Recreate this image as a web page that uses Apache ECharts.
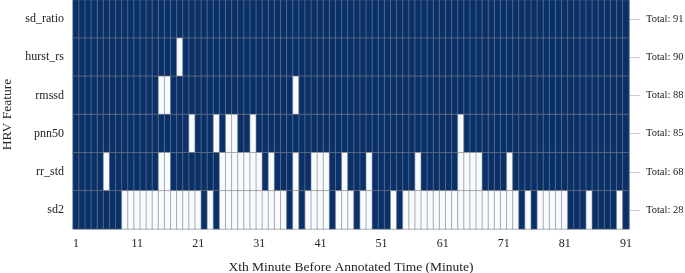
<!DOCTYPE html>
<html>
<head>
<meta charset="utf-8">
<script src="https://cdn.jsdelivr.net/npm/echarts@6/dist/echarts.min.js"></script>
<style>
  html, body { margin: 0; padding: 0; background: #fff; }
  #chart { width: 685px; height: 273px; }
</style>
</head>
<body>
<div id="chart"></div>
<script>
// 1 = feature present (dark), 0 = absent (light), minutes 1..91
const features = ['sd_ratio', 'hurst_rs', 'rmssd', 'pnn50', 'rr_std', 'sd2'];
const minutes = Array.from({ length: 91 }, (_, i) => String(i + 1));

const sdRatio = [
  1,1,1,1,1,1,1,1,1,1, 1,1,1,1,1,1,1,1,1,1, 1,1,1,1,1,1,1,1,1,1,
  1,1,1,1,1,1,1,1,1,1, 1,1,1,1,1,1,1,1,1,1, 1,1,1,1,1,1,1,1,1,1,
  1,1,1,1,1,1,1,1,1,1, 1,1,1,1,1,1,1,1,1,1, 1,1,1,1,1,1,1,1,1,1, 1
];
const hurstRs = [
  1,1,1,1,1,1,1,1,1,1, 1,1,1,1,1,1,1,0,1,1, 1,1,1,1,1,1,1,1,1,1,
  1,1,1,1,1,1,1,1,1,1, 1,1,1,1,1,1,1,1,1,1, 1,1,1,1,1,1,1,1,1,1,
  1,1,1,1,1,1,1,1,1,1, 1,1,1,1,1,1,1,1,1,1, 1,1,1,1,1,1,1,1,1,1, 1
];
const rmssd = [
  1,1,1,1,1,1,1,1,1,1, 1,1,1,1,0,0,1,1,1,1, 1,1,1,1,1,1,1,1,1,1,
  1,1,1,1,1,1,0,1,1,1, 1,1,1,1,1,1,1,1,1,1, 1,1,1,1,1,1,1,1,1,1,
  1,1,1,1,1,1,1,1,1,1, 1,1,1,1,1,1,1,1,1,1, 1,1,1,1,1,1,1,1,1,1, 1
];
const pnn50 = [
  1,1,1,1,1,1,1,1,1,1, 1,1,1,1,1,1,1,1,1,0, 1,1,1,0,1,0,0,1,1,0,
  1,1,1,1,1,1,1,1,1,1, 1,1,1,1,1,1,1,1,1,1, 1,1,1,1,1,1,1,1,1,1,
  1,1,1,0,1,1,1,1,1,1, 1,1,1,1,1,1,1,1,1,1, 1,1,1,1,1,1,1,1,1,1, 1
];
const rrStd = [
  1,1,1,1,1,0,1,1,1,1, 1,1,1,1,0,0,1,1,1,1, 1,1,1,1,0,0,0,0,0,0,
  0,1,0,1,1,1,0,1,1,0, 0,0,1,1,0,1,1,1,0,1, 1,1,1,1,1,1,0,1,1,1,
  1,1,1,0,0,0,0,1,1,1, 1,0,1,1,1,1,1,1,1,1, 1,1,1,1,1,1,1,1,1,1, 1
];
const sd2 = [
  1,1,1,1,1,1,1,1,0,0, 0,0,0,0,0,0,0,0,0,0, 0,1,0,1,0,0,0,0,0,0,
  0,0,0,0,0,1,0,1,0,0, 0,0,1,0,0,0,1,0,0,1, 1,1,0,1,0,0,0,0,0,0,
  0,0,0,0,0,0,0,0,0,0, 0,0,0,1,0,1,0,0,0,0, 0,1,1,1,0,1,1,1,1,0, 1
];
const rows = [sdRatio, hurstRs, rmssd, pnn50, rrStd, sd2];

const chart = echarts.init(document.getElementById('chart'));

const data = [];
rows.forEach((row, r) => {
    row.forEach((v, c) => data.push([c, r, v]));
});
const totals = rows.map(row => 'Total: ' + row.reduce((a, b) => a + b, 0));

const font = 'Liberation Serif';
const textColor = '#222';

chart.setOption({
    animation: false,
    textStyle: { fontFamily: font },
    grid: { left: 73, right: 56, top: 0, bottom: 44, outerBoundsMode: 'none', containLabel: false },
    xAxis: {
        type: 'category',
        data: minutes,
        name: 'Xth Minute Before Annotated Time (Minute)',
        nameLocation: 'middle',
        nameGap: 31,
        nameTextStyle: { fontFamily: font, fontSize: 13.5, color: textColor },
        axisLine: { show: false },
        axisTick: { show: false },
        splitLine: { show: false },
        axisLabel: { interval: 9, fontFamily: font, fontSize: 12, color: textColor, margin: 9 }
    },
    yAxis: [
        {
            type: 'category',
            data: features,
            inverse: true,
            name: 'HRV Feature',
            nameLocation: 'middle',
            nameGap: 57,
            nameTextStyle: { fontFamily: font, fontSize: 13.5, color: textColor },
            axisLine: { show: false },
            axisTick: { show: false },
            axisLabel: { fontFamily: font, fontSize: 12, color: textColor, margin: 9 }
        },
        {
            type: 'category',
            data: totals,
            inverse: true,
            position: 'right',
            axisLine: { show: true, lineStyle: { color: '#cccccc' } },
            axisTick: { show: true, alignWithLabel: true, length: 11, lineStyle: { color: '#cccccc' } },
            axisLabel: { fontFamily: font, fontSize: 10.5, color: textColor, margin: 17 }
        }
    ],
    visualMap: {
        show: false,
        type: 'piecewise',
        dimension: 2,
        pieces: [
            { value: 0, color: '#f7fbff' },
            { value: 1, color: '#08306b' }
        ]
    },
    series: [{
        type: 'heatmap',
        data: data,
        itemStyle: { borderColor: 'rgba(128,128,128,0.6)', borderWidth: 1 }
    }]
});
</script>
</body>
</html>
